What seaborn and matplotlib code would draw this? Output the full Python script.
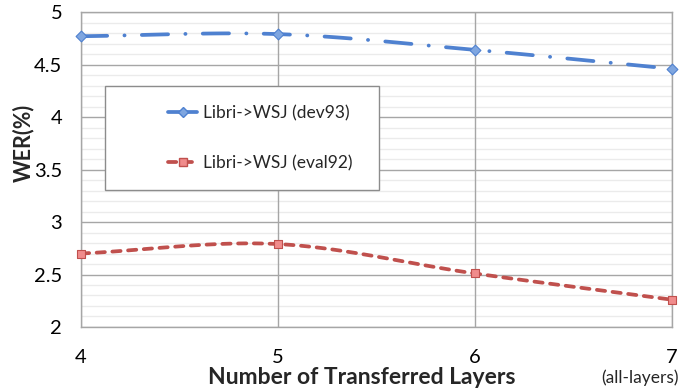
import numpy as np
import pandas as pd
import matplotlib
matplotlib.use("Agg")
import matplotlib.pyplot as plt
import seaborn as sns
from matplotlib.ticker import MultipleLocator
from matplotlib.patches import Rectangle

# Data
layers = [4, 5, 6, 7]
dev93 = [4.77, 4.79, 4.64, 4.46]
eval92 = [2.70, 2.79, 2.51, 2.26]
series_names = ["Libri->WSJ (dev93)", "Libri->WSJ (eval92)"]
x_labels = ["4", "5", "6", "7"]
y_ticks = [2, 2.5, 3, 3.5, 4, 4.5, 5]
y_labels = ["2", "2.5", "3", "3.5", "4", "4.5", "5"]

sns.set_theme(style="white")
plt.rcParams["font.family"] = ["Lato", "DejaVu Sans"]


def smooth(xs, ys, n=40):
    """Catmull-Rom curve through the points (smoothed line)."""
    xs = np.asarray(xs, float)
    ys = np.asarray(ys, float)
    px = np.concatenate([[2 * xs[0] - xs[1]], xs, [2 * xs[-1] - xs[-2]]])
    py = np.concatenate([[2 * ys[0] - ys[1]], ys, [2 * ys[-1] - ys[-2]]])
    out_x, out_y = [], []
    for i in range(1, len(px) - 2):
        t = np.linspace(0, 1, n, endpoint=False)
        for arr, p in ((out_x, px), (out_y, py)):
            p0, p1, p2, p3 = p[i - 1], p[i], p[i + 1], p[i + 2]
            arr.extend(0.5 * ((2 * p1) + (-p0 + p2) * t
                              + (2 * p0 - 5 * p1 + 4 * p2 - p3) * t ** 2
                              + (-p0 + 3 * p1 - 3 * p2 + p3) * t ** 3))
    out_x.append(xs[-1])
    out_y.append(ys[-1])
    return np.array(out_x), np.array(out_y)


fig = plt.figure(figsize=(6.8, 3.89), dpi=100)
ax = fig.add_axes([0.119, 0.1594, 0.869, 0.8096])

blue = "#4F81D0"
red = "#C0504D"

styles = [
    dict(y=dev93, color=blue, dashes=(7.0, 4.6, 0.05, 4.6), cap="round",
         marker="D", mfc="#7FA6E0", mec=blue, ms=5.5),
    dict(y=eval92, color=red, dashes=(2.2, 2.0), cap="round",
         marker="s", mfc="#F08C8C", mec=red, ms=6.3),
]
LW = 2.7

handles = []
for name, st in zip(series_names, styles):
    sx, sy = smooth(layers, st["y"])
    curve = pd.DataFrame({"x": sx, "y": sy})
    sns.lineplot(data=curve, x="x", y="y", ax=ax, color=st["color"], lw=LW,
                 sort=False, estimator=None, zorder=3)
    ax.lines[-1].set_dashes(st["dashes"])
    ax.lines[-1].set_dash_capstyle(st["cap"])
    pts = pd.DataFrame({"x": layers, "y": st["y"]})
    sns.scatterplot(data=pts, x="x", y="y", ax=ax, marker=st["marker"],
                    s=st["ms"] ** 2, color=st["mfc"], edgecolor=st["mec"],
                    linewidth=0.8, zorder=4, clip_on=False)
    h, = ax.plot([], [], color=st["color"], lw=LW, marker=st["marker"],
                 mfc=st["mfc"], mec=st["mec"], ms=st["ms"])
    if name == series_names[1]:
        h.set_dashes(st["dashes"])
        h.set_dash_capstyle(st["cap"])
    handles.append(h)

ax.set_xlim(4, 7)
ax.set_ylim(2, 5)
ax.set_xticks(layers)
ax.set_xticklabels(x_labels)
ax.set_yticks(y_ticks)
ax.set_yticklabels(y_labels)
ax.yaxis.set_minor_locator(MultipleLocator(0.1))

# light minor lines underneath, major grid on top of them
for yv in ax.yaxis.get_minorticklocs():
    ax.axhline(yv, color="#EBEBEB", lw=1.0, zorder=0.2)
ax.grid(which="major", axis="both", color="#A6A6A6", lw=1.0, zorder=0.5)
ax.set_axisbelow(True)
for sp in ax.spines.values():
    sp.set_color("#A6A6A6")
    sp.set_linewidth(1.0)

ax.tick_params(axis="both", which="both", length=0, labelsize=14.5,
               colors="black")
ax.tick_params(axis="x", pad=16)
ax.tick_params(axis="y", pad=13.5)

ax.set_xlabel("Number of Transferred Layers", fontsize=16.5, fontweight="bold")
ax.xaxis.set_label_coords(0.476, -0.159)
ax.xaxis.label.set_verticalalignment("center")
ax.set_ylabel("WER(%)", fontsize=15.5, fontweight="bold")
ax.yaxis.set_label_coords(-0.098, 0.585)
ax.yaxis.label.set_verticalalignment("center")
ax.text(0.946, -0.162, "(all-layers)", transform=ax.transAxes,
        ha="center", va="center", fontsize=12.5)

# legend box
ax.add_patch(Rectangle((0.041, 0.435), 0.463, 0.330, transform=ax.transAxes,
                       facecolor="white", edgecolor="#8C8C8C", lw=1.0,
                       zorder=5))
leg = ax.legend(handles, series_names, loc="center left",
                bbox_to_anchor=(0.147, 0.60), fontsize=12.5, frameon=False,
                borderpad=0, labelspacing=1.95, handlelength=1.7,
                handletextpad=0.35, borderaxespad=0)
leg.set_zorder(6)

fig.savefig("out.png", dpi=100)
